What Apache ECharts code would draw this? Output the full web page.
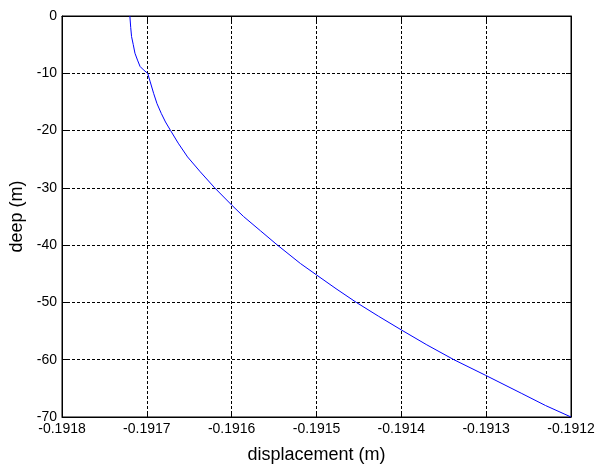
<!DOCTYPE html>
<html>
<head>
<meta charset="utf-8">
<script src="https://cdn.jsdelivr.net/npm/echarts@6/dist/echarts.min.js"></script>
<style>
  html, body { margin: 0; padding: 0; background: #fff; }
  #main { width: 595px; height: 466px; }
</style>
</head>
<body>
<div id="main"></div>
<script>
  // depth (m) and horizontal displacement (m)
  var depth = [0, -2, -3.6, -5, -6.5, -7.7, -8.8, -9.4, -10, -11.5, -13.5, -15.3, -17, -18.5, -20, -22.2, -24.6, -27.2, -30, -33, -35,
    -37.5, -40, -43.2, -45.2, -47.6, -50, -52.4, -54.8, -57.4, -60, -62.7, -65.9, -68, -70];
  var displacement = [-0.19172, -0.191719, -0.191718, -0.191716, -0.191714, -0.191711, -0.191708, -0.191704, -0.191699, -0.191696,
    -0.191692, -0.191688, -0.191683, -0.191678, -0.191672, -0.191663, -0.191652, -0.191637, -0.19162, -0.1916,
    -0.191586, -0.191566, -0.191546, -0.191519, -0.1915, -0.191477, -0.191453, -0.191427, -0.1914, -0.19137,
    -0.191338, -0.191301, -0.191258, -0.19123, -0.1912];

  var xTicks = { min: -0.1918, max: -0.1912, step: 0.0001 };
  var yTicks = { min: -70, max: 0, step: 10 };

  var pts = [];
  for (var i = 0; i < depth.length; i++) pts.push([displacement[i], depth[i]]);

  var font = 'Liberation Sans, Arial, sans-serif';
  var dashed = { show: true, lineStyle: { color: '#000', type: [3, 2], width: 1 } };
  var frameTick = { show: true, inside: true, length: 5, lineStyle: { color: '#000' } };

  var myChart = echarts.init(document.getElementById('main'));
  myChart.setOption({
    animation: false,
    backgroundColor: '#fff',
    grid: { left: 62, right: 24, top: 16, bottom: 49, outerBoundsMode: 'none', containLabel: false,
      show: true, borderColor: '#000', borderWidth: 1, backgroundColor: '#fff' },
    xAxis: [{
      type: 'value',
      min: xTicks.min, max: xTicks.max, interval: xTicks.step,
      name: 'displacement (m)', nameLocation: 'middle', nameGap: 29,
      nameTextStyle: { fontFamily: font, fontSize: 18, color: '#000' },
      axisLine: { show: true, onZero: false, lineStyle: { color: '#000' } },
      axisTick: frameTick,
      axisLabel: { fontFamily: font, fontSize: 14, color: '#000', margin: 5,
        formatter: function (v) { return v.toFixed(4); } },
      splitLine: dashed
    }, {
      type: 'value', position: 'top',
      min: xTicks.min, max: xTicks.max, interval: xTicks.step,
      axisLine: { show: true, onZero: false, lineStyle: { color: '#000' } },
      axisTick: frameTick,
      axisLabel: { show: false }, splitLine: { show: false }
    }],
    yAxis: [{
      type: 'value',
      min: yTicks.min, max: yTicks.max, interval: yTicks.step,
      name: 'deep (m)', nameLocation: 'middle', nameGap: 35, nameRotate: 90,
      nameTextStyle: { fontFamily: font, fontSize: 18, color: '#000' },
      axisLine: { show: true, onZero: false, lineStyle: { color: '#000' } },
      axisTick: frameTick,
      axisLabel: { fontFamily: font, fontSize: 14, color: '#000', margin: 5 },
      splitLine: dashed
    }, {
      type: 'value', position: 'right',
      min: yTicks.min, max: yTicks.max, interval: yTicks.step,
      axisLine: { show: true, onZero: false, lineStyle: { color: '#000' } },
      axisTick: frameTick,
      axisLabel: { show: false }, splitLine: { show: false }
    }],
    series: [{
      type: 'line',
      data: pts,
      smooth: false,
      showSymbol: false,
      lineStyle: { color: '#0000ff', width: 1 },
      clip: true
    }]
  });
</script>
</body>
</html>
